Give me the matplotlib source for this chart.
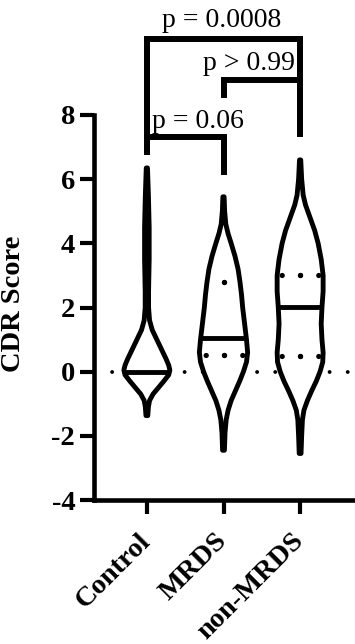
import numpy as np
import matplotlib
matplotlib.use("Agg")
import matplotlib.pyplot as plt

plt.rcParams['font.family'] = ['Liberation Serif', 'DejaVu Serif']

# ---------------- data ----------------
categories = ['Control', 'MRDS', 'non-MRDS']

# violin outlines: y levels and half-widths (x data units)
control_y = [6.35, 5.5, 4.5, 3.5, 2.5, 2.0, 1.6, 1.3, 1.0, 0.7, 0.4, 0.2, 0.05, -0.1, -0.3, -0.5, -0.7, -0.9, -1.1, -1.37]
control_w = [0.008, 0.02, 0.03, 0.03, 0.022, 0.022, 0.035, 0.07, 0.13, 0.19, 0.25, 0.285, 0.30, 0.285, 0.22, 0.15, 0.08, 0.035, 0.02, 0.012]

mrds_y = [5.45, 5.0, 4.6, 4.3, 4.0, 3.6, 3.2, 2.8, 2.4, 2.0, 1.5, 1.0, 0.6, 0.3, 0.0, -0.3, -0.6, -0.9, -1.2, -1.5, -1.9, -2.45]
mrds_w = [0.008, 0.015, 0.03, 0.06, 0.10, 0.15, 0.19, 0.215, 0.235, 0.25, 0.275, 0.30, 0.315, 0.30, 0.26, 0.21, 0.155, 0.10, 0.06, 0.035, 0.02, 0.012]

non_y = [6.6, 6.0, 5.5, 5.2, 4.8, 4.4, 4.0, 3.5, 3.0, 2.5, 2.0, 1.5, 1.0, 0.6, 0.3, 0.0, -0.3, -0.6, -0.9, -1.2, -1.5, -2.0, -2.55]
non_w = [0.008, 0.02, 0.04, 0.07, 0.13, 0.19, 0.235, 0.275, 0.30, 0.30, 0.285, 0.275, 0.285, 0.30, 0.295, 0.26, 0.21, 0.15, 0.095, 0.05, 0.03, 0.02, 0.012]

violin_ys = [control_y, mrds_y, non_y]
violin_ws = [control_w, mrds_w, non_w]

medians = [0.0, 1.05, 2.02]
upper_quartiles = [None, 2.78, 3.02]
lower_quartiles = [None, 0.52, 0.50]

# significance brackets
bracket_pairs = [(0, 1), (1, 2), (0, 2)]
bracket_tops = [7.32, 9.10, 10.37]
bracket_left_ends = [6.75, 8.53, 6.75]
bracket_right_ends = [6.13, 7.32, 9.10]
p_labels = ['p = 0.06', 'p > 0.99', 'p = 0.0008']
p_label_x = [0.66, 1.33, 0.98]
p_label_y = [7.6, 9.4, 10.74]

y_ticks = [-4, -2, 0, 2, 4, 6, 8]

# ---------------- figure ----------------
W, H = 355, 644
fig = plt.figure(figsize=(W / 100, H / 100), dpi=100)
ax = fig.add_axes([94 / W, 1 - 500 / H, (353 - 94) / W, (500 - 115) / H])

ax.set_xlim(-0.69, 2.69)
ax.set_ylim(-4, 8)

# reference dotted line at 0
ax.axhline(0, color='black', lw=2.8, linestyle=(0, (0.01, 4.65)),
           dash_capstyle='round', zorder=1)

for i, (ys, ws) in enumerate(zip(violin_ys, violin_ws)):
    ys = np.array(ys)
    ws = np.array(ws)
    xs = np.concatenate([i - ws, (i + ws)[::-1]])
    yy = np.concatenate([ys, ys[::-1]])
    ax.fill(xs, yy, facecolor='white', edgecolor='black', lw=3.5,
            joinstyle='round', zorder=2)
    order = np.argsort(ys)
    m = medians[i]
    mw = np.interp(m, ys[order], ws[order])
    ax.plot([i - mw, i + mw], [m, m], color='black', lw=3.5,
            solid_capstyle='butt', zorder=3)
    for q in (upper_quartiles[i], lower_quartiles[i]):
        if q is None:
            continue
        qw = np.interp(q, ys[order], ws[order])
        for side in (-1, 1):
            ax.plot([i, i + side * qw], [q, q], color='black', lw=3.8,
                    linestyle=(0, (0.01, 3.45)), dash_capstyle='round', zorder=3)

# brackets
for (a, b), top, le, re, lab, lx, ly in zip(bracket_pairs, bracket_tops,
                                             bracket_left_ends, bracket_right_ends,
                                             p_labels, p_label_x, p_label_y):
    ax.plot([a, a, b, b], [le, top, top, re], color='black', lw=4.3,
            solid_joinstyle='miter', solid_capstyle='butt', clip_on=False, zorder=4)
    ax.text(lx, ly, lab, ha='center', va='baseline', fontsize=20, clip_on=False)

# axes styling
for s in ['top', 'right']:
    ax.spines[s].set_visible(False)
for s in ['left', 'bottom']:
    ax.spines[s].set_linewidth(3.3)
    ax.spines[s].set_capstyle('projecting')

ax.set_yticks(y_ticks)
ax.set_yticklabels([str(t) for t in y_ticks], fontsize=20.5, fontweight='bold')
ax.set_xticks(range(len(categories)))
ax.set_xticklabels(categories, fontsize=20.5, fontweight='bold', rotation=45,
                   ha='right', va='center', rotation_mode='anchor')
ax.tick_params(axis='y', length=10, width=3, pad=3.5)
ax.tick_params(axis='x', length=10, width=3, pad=17)

fig.text(14 / W, 1 - 304 / H, 'CDR Score', rotation=90, ha='center', va='center',
         fontsize=20.5, fontweight='bold')

fig.savefig('out.png', dpi=100)
